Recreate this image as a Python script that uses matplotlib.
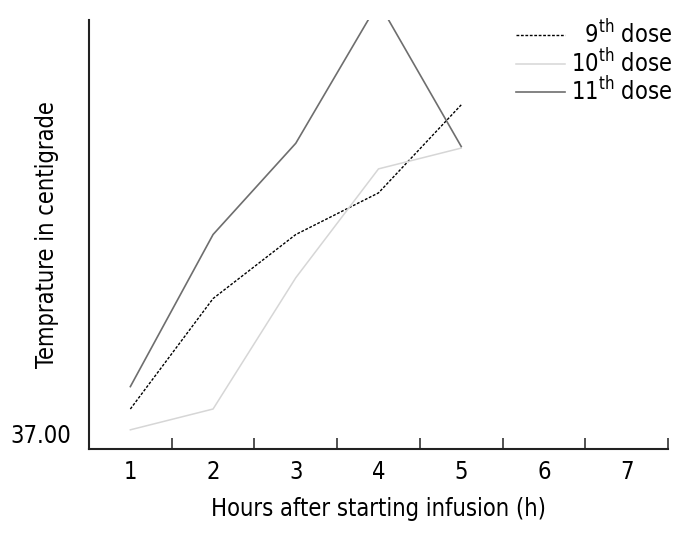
import matplotlib.pyplot as plt

# hours after starting infusion
hours = [1, 2, 3, 4, 5]
x_labels = ['1', '2', '3', '4', '5', '6', '7']

# temperature readings for each dose
dose_9 = [37.15, 37.84, 38.24, 38.50, 39.05]
dose_10 = [37.02, 37.15, 37.97, 38.65, 38.78]
dose_11 = [37.29, 38.24, 38.81, 39.69, 38.79]

plt.rcParams['font.family'] = 'DejaVu Sans'
plt.rcParams['font.stretch'] = 'condensed'

fig = plt.figure(figsize=(6.91, 5.35), dpi=100)
ax = fig.add_axes([0.1288, 0.1607, 0.8379, 0.8019])

ax.plot(hours, dose_9, color='black', linestyle=(0, (2, 1.2)), linewidth=1.0,
        label='  9$^{\\mathregular{th}}$ dose')
ax.plot(hours, dose_10, color='#d6d6d6', linewidth=1.1,
        label='10$^{\\mathregular{th}}$ dose')
ax.plot(hours, dose_11, color='#6e6e6e', linewidth=1.2,
        label='11$^{\\mathregular{th}}$ dose')

ax.set_xlim(0.5, 7.5)
ax.set_ylim(36.9, 39.58)

# tick marks sit between the hour labels
ax.set_xticks([i + 0.5 for i in range(0, 8)])
ax.set_xticklabels([])
ax.set_xticks(range(1, 8), minor=True)
ax.set_xticklabels(x_labels, minor=True, fontsize=17)
ax.tick_params(axis='x', which='major', direction='in', length=8, width=1.2, color='#333333')
ax.tick_params(axis='x', which='minor', length=0, pad=8)

ax.set_yticks([37.0])
ax.set_yticklabels(['37.00'], fontsize=17)
ax.tick_params(axis='y', length=0, pad=13)

for side in ['top', 'right']:
    ax.spines[side].set_visible(False)
for side in ['left', 'bottom']:
    ax.spines[side].set_linewidth(1.5)
    ax.spines[side].set_color('#222222')

ax.set_xlabel('Hours after starting infusion (h)', fontsize=17, labelpad=9)
ax.set_ylabel('Temprature in centigrade', fontsize=17, labelpad=-35)

ax.legend(loc='upper right', bbox_to_anchor=(1.045, 1.05), frameon=False, fontsize=17,
          handlelength=2.1, handletextpad=0.25, labelspacing=0.0)

fig.savefig('out.png', dpi=100)
